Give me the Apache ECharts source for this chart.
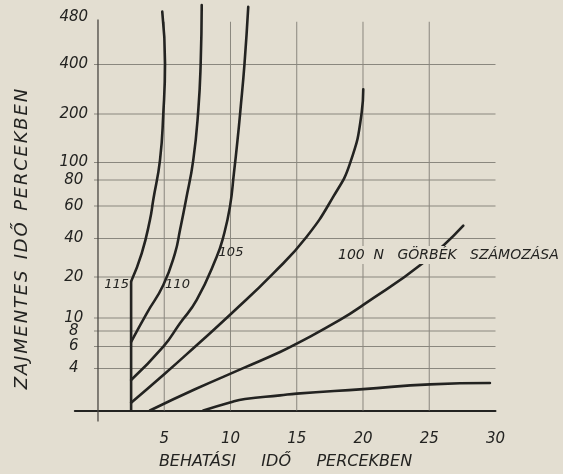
<!DOCTYPE html>
<html>
<head>
<meta charset="utf-8">
<title>Zajmentes idő</title>
<script src="https://cdn.jsdelivr.net/npm/echarts@6/dist/echarts.min.js"></script>
<style>
  html, body { margin: 0; padding: 0; background: #e3ded1; }
  #chart { width: 563px; height: 474px; }
</style>
</head>
<body>
<div id="chart"></div>
<script>
// x: behatási idő (perc), y: zajmentes idő (perc)
const xTicks = [5, 10, 15, 20, 25, 30];
const yTicks = [4, 6, 8, 10, 20, 40, 60, 80, 100, 200, 400, 480];

// the paper's y ruling is hand made, not linear: value -> height above baseline
const yRuleVals = [0, 4, 6, 8, 10, 20, 40, 60, 80, 100, 200, 400, 480];
const yRulePos = [0, 42, 64, 79.5, 92.5, 133.5, 172, 204.5, 230.5, 248, 296.5, 346, 393.5];

// common vertical start the upper curves branch off
const stem = [[2.5, 0], [2.5, 18.9]];
const c115 = [[2.5, 18.9], [3.3, 32.3], [3.92, 51.4], [4.17, 64.6], [4.68, 105], [4.93, 203], [5.06, 402], [4.85, 489]];
const c110 = [[2.5, 6.6], [3.68, 11.15], [4.93, 18.05], [5.81, 32.3], [6.19, 45.2], [6.64, 64.6], [7.19, 105], [7.57, 216], [7.75, 402], [7.83, 500]];
const c105 = [[2.5, 2.9], [4.93, 5.98], [6.19, 9.2], [7.45, 14.4], [8.96, 30.5], [9.46, 41.1], [9.96, 59.6], [10.26, 88], [10.53, 146], [10.75, 216], [11.06, 402], [11.34, 497]];
const c100 = [[2.5, 0.74], [4.93, 3.38], [7.32, 5.98], [10.09, 11.15], [13.23, 21.9], [15.75, 41.1], [17.76, 67.2], [19.02, 99], [19.9, 205], [20.02, 300]];
const c95 = [[3.92, 0], [7.32, 2.02], [11.09, 4.1], [13.74, 5.5], [15.0, 6.37], [18.26, 9.7], [20.02, 13.2], [24.55, 27.4], [27.57, 47.9]];
const c90 = [[7.95, 0], [9.96, 0.77], [11.09, 1.1], [13.74, 1.44], [15.0, 1.61], [20.02, 2.04], [25.06, 2.49], [29.58, 2.62]];

const BG = '#e3ded1';
const INK = '#232321';
const RULE = '#8a877e';
const FONT = 'DejaVu Sans';

function toU(v) {
  let i = 1;
  while (i < yRuleVals.length - 1 && v > yRuleVals[i]) i++;
  const v0 = yRuleVals[i - 1], v1 = yRuleVals[i];
  const p0 = yRulePos[i - 1], p1 = yRulePos[i];
  return p0 + (v - v0) * (p1 - p0) / (v1 - v0);
}
const uOf = pts => pts.map(p => [p[0], toU(p[1])]);
const spaced = s => s.split('').join('\u200A');

function rule(pts, color, width) {
  return {
    type: 'line', data: uOf(pts), symbol: 'none', silent: true, z: 1,
    lineStyle: { color: color, width: width }
  };
}
function curve(name, pts) {
  return {
    name: name, type: 'line', data: uOf(pts), symbol: 'none', silent: true, z: 3,
    smooth: 0.5,
    lineStyle: { color: INK, width: 2.6, cap: 'round' }
  };
}

const series = [];
// horizontal rulings
yTicks.filter(v => v !== 480).forEach(v => series.push(rule([[-0.3, v], [30, v]], RULE, 1)));
// vertical rulings, they stop a little under 480
xTicks.filter(x => x !== 30).forEach(x => series.push(rule([[x, 0], [x, 472]], RULE, 1)));
// y axis line, runs a bit below the baseline
series.push({
  type: 'line', data: [[0, -11], [0, toU(476)]], symbol: 'none', silent: true, z: 1,
  lineStyle: { color: '#4a4843', width: 1.3 }
});

series.push({
  type: 'line', data: uOf(stem), symbol: 'none', silent: true, z: 3,
  lineStyle: { color: INK, width: 2.6 }
});
series.push(curve('115', c115));
series.push(curve('110', c110));
series.push(curve('105', c105));
series.push(curve('100', c100));
series.push(curve('95', c95));
series.push(curve('90', c90));

const yLabelPos = yTicks.map(toU);

const txt = (extra) => Object.assign({
  fontFamily: FONT, fontStyle: 'italic', fill: INK, verticalAlign: 'middle'
}, extra);

const chart = echarts.init(document.getElementById('chart'));
chart.setOption({
  backgroundColor: BG,
  animation: false,
  grid: { left: 74.8, right: 67.5, top: 0.5, bottom: 51.5, outerBoundsMode: 'none' },
  xAxis: {
    type: 'value', min: -1.75, max: 30,
    axisLine: { show: true, onZero: true, lineStyle: { color: INK, width: 2 } },
    axisTick: { show: false },
    splitLine: { show: false },
    axisLabel: {
      customValues: xTicks, margin: 9,
      fontFamily: FONT, fontStyle: 'italic', fontSize: 15, color: INK
    }
  },
  yAxis: {
    type: 'value', min: -12, max: 410,
    axisLine: { show: false, onZero: false },
    axisTick: { show: false },
    splitLine: { show: false },
    axisLabel: {
      customValues: yLabelPos, margin: 1, align: 'center',
      padding: [0, 0, 4, 0],
      fontFamily: FONT, fontStyle: 'italic', fontSize: 15, color: INK,
      formatter: function (u) {
        let best = 0;
        yLabelPos.forEach((p, i) => { if (Math.abs(p - u) < Math.abs(yLabelPos[best] - u)) best = i; });
        return String(yTicks[best]);
      }
    }
  },
  graphic: [
    { type: 'text', x: 285.5, y: 462, z: 100, silent: true,
      style: txt({ text: 'BEHATÁSI     IDŐ     PERCEKBEN', fontSize: 16, align: 'center' }) },
    { type: 'text', x: 22, y: 239, rotation: Math.PI / 2, z: 100, silent: true,
      style: txt({ text: spaced('ZAJMENTES') + '  ' + spaced('IDŐ') + '  ' + spaced('PERCEKBEN'), fontSize: 18, align: 'center' }) },
    { type: 'text', x: 336, y: 255, z: 100, silent: true,
      style: txt({ text: '100  N   GÖRBÉK   SZÁMOZÁSA', fontSize: 14, align: 'left', backgroundColor: BG, padding: [2, 2] }) },
    { type: 'text', x: 116.7, y: 285, z: 100, silent: true,
      style: txt({ text: '115', fontSize: 13, align: 'center' }) },
    { type: 'text', x: 177.5, y: 285, z: 100, silent: true,
      style: txt({ text: '110', fontSize: 13, align: 'center' }) },
    { type: 'text', x: 231, y: 253, z: 100, silent: true,
      style: txt({ text: '105', fontSize: 13, align: 'center' }) }
  ],
  series: series
});
</script>
</body>
</html>
